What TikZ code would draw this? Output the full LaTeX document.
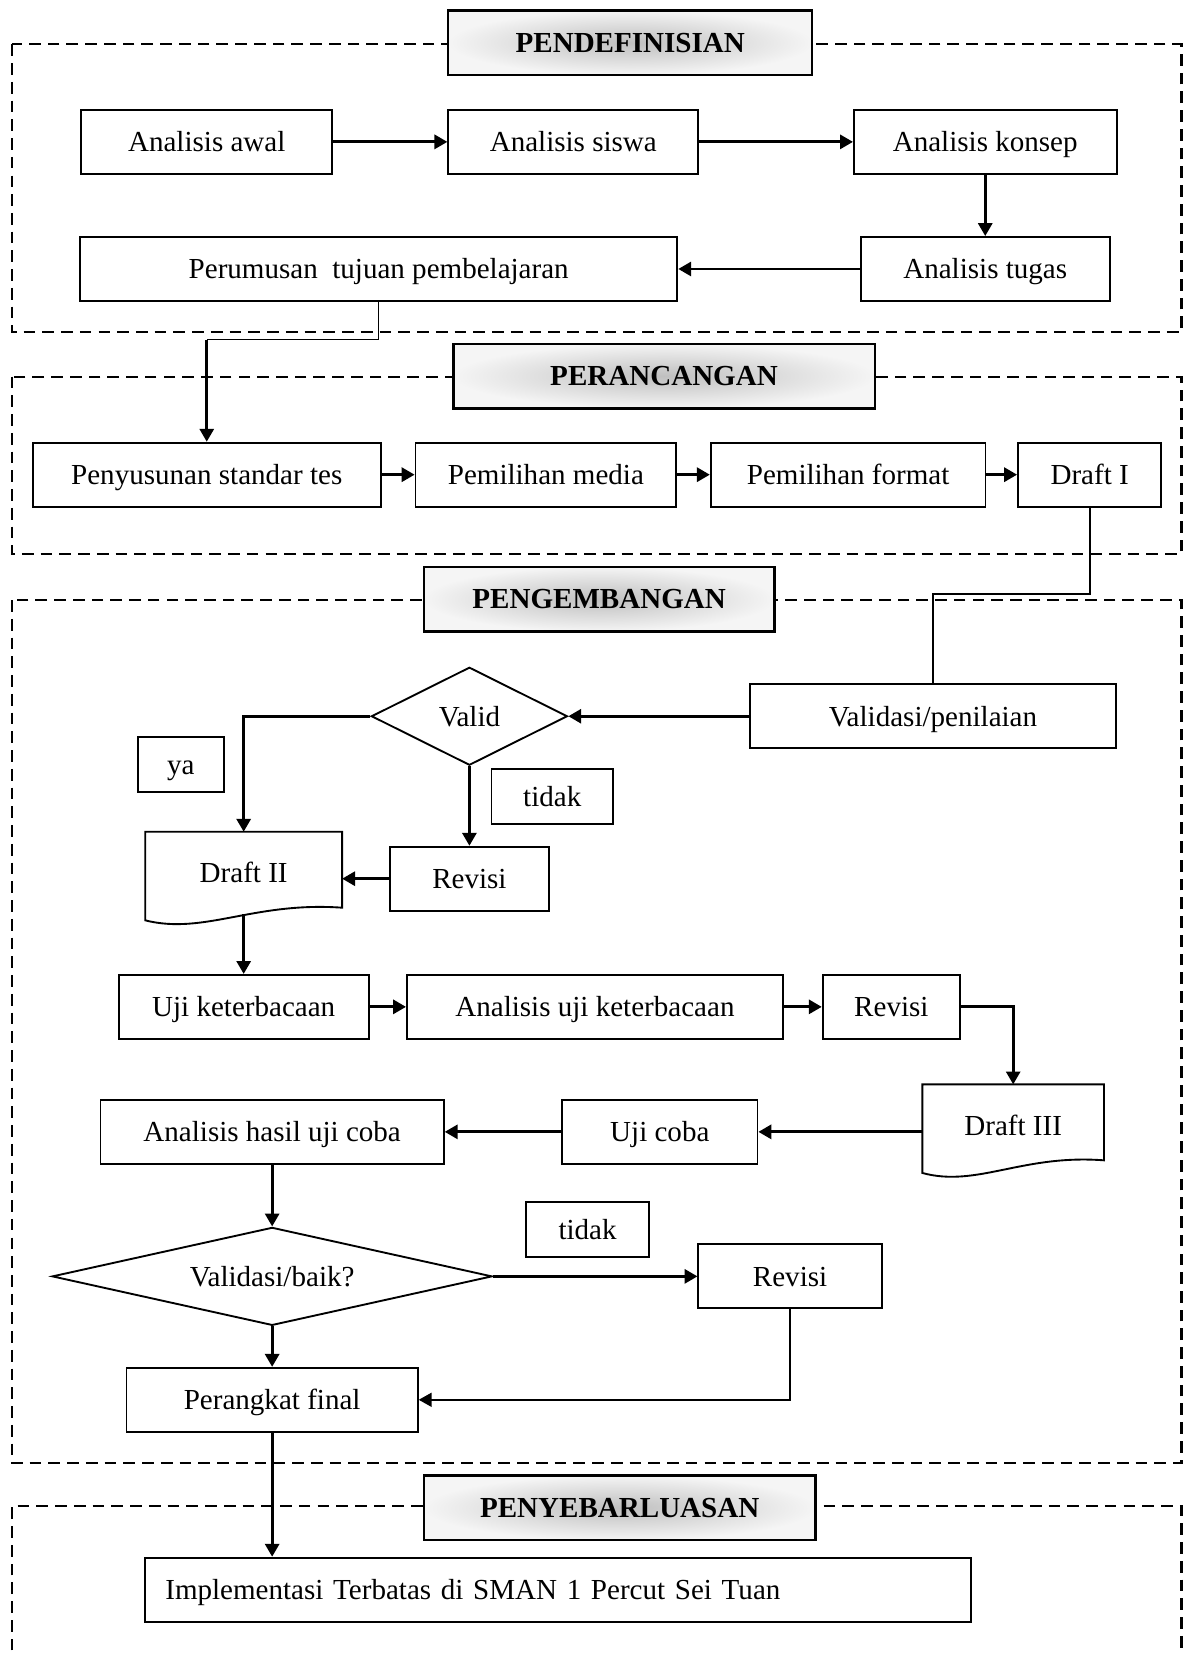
\documentclass[tikz,border=0pt]{standalone}
\usepackage{fontspec}
\setmainfont{Liberation Serif}
\usetikzlibrary{shapes,arrows.meta,calc}

\tikzset{
    box/.style={draw, line width=0.8pt, minimum height=0.96cm, inner sep=0pt, text height=10pt, text depth=1.6pt,
        font=\fontsize{12.4}{14}\selectfont},
    tag/.style={box, minimum height=0.82cm},
    doc/.style={inner sep=0pt, minimum height=1.22cm, text height=10pt, text depth=1.6pt, font=\fontsize{12.4}{14}\selectfont},
    decision/.style={draw, diamond, line width=0.8pt, inner sep=0pt, minimum height=1.47cm, font=\fontsize{12.4}{14}\selectfont},
    phase/.style={draw, line width=1pt, minimum height=0.97cm, inner color=gray!50, outer color=gray!8,
        text height=10pt, text depth=1.6pt, font=\fontsize{12.4}{14}\selectfont\bfseries},
    section/.style={line width=0.9pt, dash pattern=on 5pt off 3pt},
    link/.style={line width=1.2pt, -{Triangle[length=5.5pt, width=6pt]}},
    wire/.style={line width=0.6pt}
}

\begin{document}
\begin{tikzpicture}[x=0.01583cm, y=-0.01583cm]
    \fill[white] (0, 0) rectangle (1122, 1568);
    \useasboundingbox (0, 0) rectangle (1122, 1568);

    % dashed phase frames
    \draw[section] (11, 42) rectangle (1120, 315);
    \draw[section] (11, 357) rectangle (1120, 525);
    \draw[section] (11, 569) rectangle (1120, 1387);
    \draw[section] (11, 1600) -- (11, 1428) -- (1120, 1428) -- (1120, 1600);

    % pendefinisian
    \node[box, minimum width=3.77cm] (awal)      at (196,   134.5) {Analisis awal};
    \node[box, minimum width=3.75cm] (siswa)     at (543.5, 134.5) {Analisis siswa};
    \node[box, minimum width=3.94cm] (konsep)    at (934,   134.5) {Analisis konsep};
    \node[box, minimum width=3.74cm] (tugas)     at (934,   255)   {Analisis tugas};
    \node[box, minimum width=8.96cm] (perumusan) at (359,   255)   {Perumusan\ \ tujuan pembelajaran};

    \draw[link] (awal) -- (siswa);
    \draw[link] (siswa) -- (konsep);
    \draw[link] (konsep) -- (tugas);
    \draw[link] (tugas) -- (perumusan);

    % perancangan
    \node[box, minimum width=5.22cm] (standar) at (196,   450) {Penyusunan standar tes};
    \node[box, minimum width=3.91cm] (media)   at (517.5, 450) {Pemilihan media};
    \node[box, minimum width=4.12cm] (format)  at (804,   450) {Pemilihan format};
    \node[box, minimum width=2.15cm] (draft1)  at (1033,  450) {Draft I};

    \coordinate (bend1) at (196, 322);
    \draw[wire] (perumusan.south) |- (bend1);
    \draw[link] (bend1) -- (standar);
    \draw[link] (standar) -- (media);
    \draw[link] (media) -- (format);
    \draw[link] (format) -- (draft1);

    % pengembangan
    \node[box, minimum width=5.49cm] (validasi) at (884.5, 679) {Validasi/penilaian};
    \node[decision, aspect=2, minimum width=2.94cm] (valid) at (445, 679) {Valid};
    \node[tag, minimum width=1.28cm] (ya)     at (171.5, 725) {ya};
    \node[tag, minimum width=1.82cm] (tidak1) at (523.5, 755) {tidak};
    \node[doc, minimum width=2.94cm] (draft2)  at (231, 827.5) {Draft II};
    \node[box, minimum width=2.39cm] (revisi1) at (445, 833)   {Revisi};

    \draw[line width=1pt] (draft1.south) -- (1033, 563) -| (validasi.north);
    \draw[link] (validasi) -- (valid);
    \draw[link] (valid.west) -| (draft2.north);
    \draw[link] (valid) -- (revisi1);
    \draw[link] (revisi1.west) -- (revisi1.west -| draft2.east);

    \draw[line width=0.8pt] (draft2.north west) -- (draft2.north east) -- ($(draft2.south east)+(0,-6)$)
        .. controls ($(draft2.south west)!0.55!(draft2.south east)+(0,-12)$) and ($(draft2.south west)!0.3!(draft2.south east)+(0,20)$)
        .. ($(draft2.south west)+(0,6)$) -- cycle;

    \node[box, minimum width=3.75cm] (ujiket)      at (231, 954.5) {Uji keterbacaan};
    \node[box, minimum width=5.64cm] (analisisket) at (564, 954.5) {Analisis uji keterbacaan};
    \node[box, minimum width=2.06cm] (revisi2)     at (845, 954.5) {Revisi};
    \node[doc, minimum width=2.71cm] (draft3)      at (960.5, 1067) {Draft III};

    \draw[line width=0.8pt] (draft3.north west) -- (draft3.north east) -- ($(draft3.south east)+(0,-6)$)
        .. controls ($(draft3.south west)!0.55!(draft3.south east)+(0,-12)$) and ($(draft3.south west)!0.3!(draft3.south east)+(0,20)$)
        .. ($(draft3.south west)+(0,6)$) -- cycle;

    \draw[link] (draft2.south) -- (ujiket);
    \draw[link] (ujiket) -- (analisisket);
    \draw[link] (analisisket) -- (revisi2);
    \draw[link] (revisi2.east) -| (draft3.north);

    \node[box, minimum width=5.15cm] (hasil)  at (258,   1073) {Analisis hasil uji coba};
    \node[box, minimum width=2.93cm] (ujicoba) at (625.5, 1073) {Uji coba};
    \node[decision, aspect=4.5, minimum width=6.6cm] (baik) at (258, 1210) {Validasi/baik?};
    \node[tag, minimum width=1.84cm] (tidak2)  at (557,   1165.5) {tidak};
    \node[box, minimum width=2.75cm] (revisi3) at (749,   1210) {Revisi};
    \node[box, minimum width=4.37cm] (final)   at (258,   1327) {Perangkat final};

    \draw[link] (draft3.west |- ujicoba) -- (ujicoba);
    \draw[link] (ujicoba) -- (hasil);
    \draw[link] (hasil) -- (baik);
    \draw[link] (baik) -- (revisi3);
    \draw[link] (baik) -- (final);
    \draw[wire, -{Triangle[length=5.5pt, width=6pt]}] (revisi3.south) |- (final.east);

    % penyebarluasan
    \node[box, minimum width=12.38cm, text width=11.78cm, inner xsep=0.3cm, align=left] (implementasi) at (529, 1507)
        {Implementasi Terbatas di SMAN 1 Percut Sei Tuan};
    \draw[link] (final.south) -- (final.south |- implementasi.north);

    % phase titles
    \node[phase, minimum width=5.46cm] (definisi)  at (597.5, 40.5)   {PENDEFINISIAN};
    \node[phase, minimum width=6.32cm] (rancang)   at (629.5, 356.5)  {PERANCANGAN};
    \node[phase, minimum width=5.26cm] (kembang)   at (568,   568)    {PENGEMBANGAN};
    \node[phase, minimum width=5.87cm] (sebar)     at (587.5, 1429.5) {PENYEBARLUASAN};
\end{tikzpicture}
\end{document}
